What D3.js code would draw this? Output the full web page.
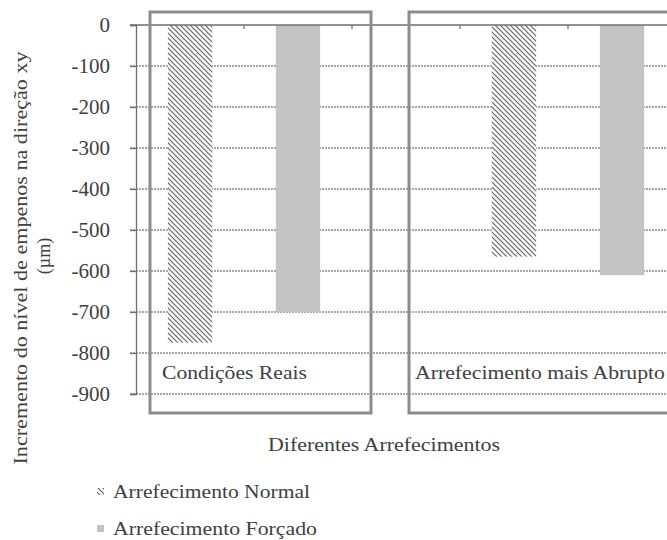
<!DOCTYPE html>
<html>
<head>
<meta charset="utf-8">
<script src="https://cdn.jsdelivr.net/npm/d3@7"></script>
<style>
  html, body { margin: 0; padding: 0; background: #fff; }
  svg { display: block; }
</style>
</head>
<body>
<svg id="chart" width="667" height="540"></svg>
<script>
// Warpage increment (µm) in the xy direction for two cooling conditions
const groups = ["Condições Reais", "Arrefecimento mais Abrupto"];
const seriesNames = ["Arrefecimento Normal", "Arrefecimento Forçado"];
const normalValues = [-775, -565];
const forcadoValues = [-700, -610];
const yTicks = [0, -100, -200, -300, -400, -500, -600, -700, -800, -900];
const xTitle = "Diferentes Arrefecimentos";
const yTitle = ["Incremento do nível de empenos na direção xy", "(µm)"];

const FONT = "'Liberation Serif'";
const TEXT = "#404040";

// Each group takes two slots (one per series) with an empty slot between groups
const slots = d3.range(groups.length * 3 - 1);
const bars = [];
groups.forEach((g, gi) => {
  bars.push({ group: g, series: 0, value: normalValues[gi], slot: gi * 3 });
  bars.push({ group: g, series: 1, value: forcadoValues[gi], slot: gi * 3 + 1 });
});

const svg = d3.select("#chart");
const plot = { left: 136, right: 676, top: 25, bottom: 394 };

const x = d3.scaleBand().domain(slots).range([plot.left, plot.right]).padding(0);
const y = d3.scaleLinear().domain([-900, 0]).range([plot.bottom, plot.top]);
const barW = x.bandwidth() * 0.41;

// hatch pattern for the normal-cooling series
const defs = svg.append("defs");
const pat = defs.append("pattern")
  .attr("id", "hatch").attr("patternUnits", "userSpaceOnUse")
  .attr("width", 5).attr("height", 5);
pat.append("rect").attr("width", 5).attr("height", 5).attr("fill", "#fff");
pat.append("path")
  .attr("d", "M-1,-1 L6,6 M-1,4 L1,6 M4,-1 L6,1")
  .attr("stroke", "#666").attr("stroke-width", 1.2);

// dashed horizontal gridlines
svg.append("g")
  .selectAll("line")
  .data(yTicks.filter(d => d !== 0))
  .join("line")
  .attr("x1", plot.left - 6).attr("x2", 667)
  .attr("y1", d => y(d)).attr("y2", d => y(d))
  .attr("stroke", "#8a8a8a").attr("stroke-width", 1.3)
  .attr("stroke-dasharray", "2,1");

// bars
svg.append("g")
  .selectAll("rect")
  .data(bars)
  .join("rect")
  .attr("x", d => x(d.slot) + (x.bandwidth() - barW) / 2)
  .attr("y", y(0))
  .attr("width", barW)
  .attr("height", d => y(d.value) - y(0))
  .attr("fill", d => d.series === 0 ? "url(#hatch)" : "#c3c3c3");

// y axis
const yAxis = svg.append("g")
  .attr("transform", `translate(${plot.left},0)`)
  .call(d3.axisLeft(y).tickValues(yTicks).tickSize(6).tickPadding(20).tickFormat(d3.format("d")));
yAxis.attr("font-family", FONT).attr("font-size", 21);
yAxis.select(".domain").attr("stroke", "#6e6e6e").attr("stroke-width", 1.3);
yAxis.selectAll(".tick line").attr("stroke", "#6e6e6e").attr("stroke-width", 1.3);
yAxis.selectAll(".tick text")
  .text(d => d === 0 ? "0" : "-" + Math.abs(d))
  .attr("fill", TEXT);

// zero line with category ticks
const xAxis = svg.append("g")
  .attr("transform", `translate(0,${y(0)})`)
  .call(d3.axisBottom(x).tickValues(slots.slice(1)).tickSize(4).tickFormat(""));
xAxis.select(".domain").attr("stroke", "#6e6e6e").attr("stroke-width", 1.3)
  .attr("d", `M${plot.left - 6},0H667`);
xAxis.selectAll(".tick").attr("transform", d => `translate(${x(d)},0)`);
xAxis.selectAll(".tick line").attr("stroke", "#6e6e6e").attr("stroke-width", 1.2);

// group frames with their labels
const frames = [
  { x0: 150, x1: 371, label: groups[0], tx: 162, tw: 145 },
  { x0: 409, x1: 690, label: groups[1], tx: 415, tw: 250 }
];
svg.append("g").selectAll("rect")
  .data(frames)
  .join("rect")
  .attr("x", d => d.x0).attr("y", 12)
  .attr("width", d => d.x1 - d.x0).attr("height", 401)
  .attr("fill", "none").attr("stroke", "#8c8c8c").attr("stroke-width", 3);

const labels = svg.append("g")
  .attr("font-family", FONT).attr("font-size", 18).attr("fill", TEXT);

labels.selectAll("text.group")
  .data(frames)
  .join("text")
  .attr("class", "group")
  .attr("x", d => d.tx).attr("y", 379)
  .attr("textLength", d => d.tw).attr("lengthAdjust", "spacingAndGlyphs")
  .text(d => d.label);

// axis titles
labels.append("text")
  .attr("x", 268).attr("y", 451)
  .attr("textLength", 232).attr("lengthAdjust", "spacingAndGlyphs")
  .text(xTitle);

labels.append("text")
  .attr("transform", "translate(27,258) rotate(-90)")
  .attr("text-anchor", "middle")
  .attr("textLength", 413).attr("lengthAdjust", "spacingAndGlyphs")
  .text(yTitle[0]);
labels.append("text")
  .attr("transform", "translate(50,256) rotate(-90)")
  .attr("text-anchor", "middle")
  .text(yTitle[1]);

// legend
const legendRows = [
  { name: seriesNames[0], fill: "url(#hatch)", cy: 493, tw: 197 },
  { name: seriesNames[1], fill: "#c3c3c3", cy: 530, tw: 204 }
];
const li = labels.selectAll("g.legend").data(legendRows).join("g").attr("class", "legend");
li.append("rect")
  .attr("x", 97).attr("y", d => d.cy - 5)
  .attr("width", 7).attr("height", 7)
  .attr("fill", d => d.fill);
li.append("text")
  .attr("x", 113).attr("y", d => d.cy + 5)
  .attr("textLength", d => d.tw).attr("lengthAdjust", "spacingAndGlyphs")
  .text(d => d.name);
</script>
</body>
</html>
